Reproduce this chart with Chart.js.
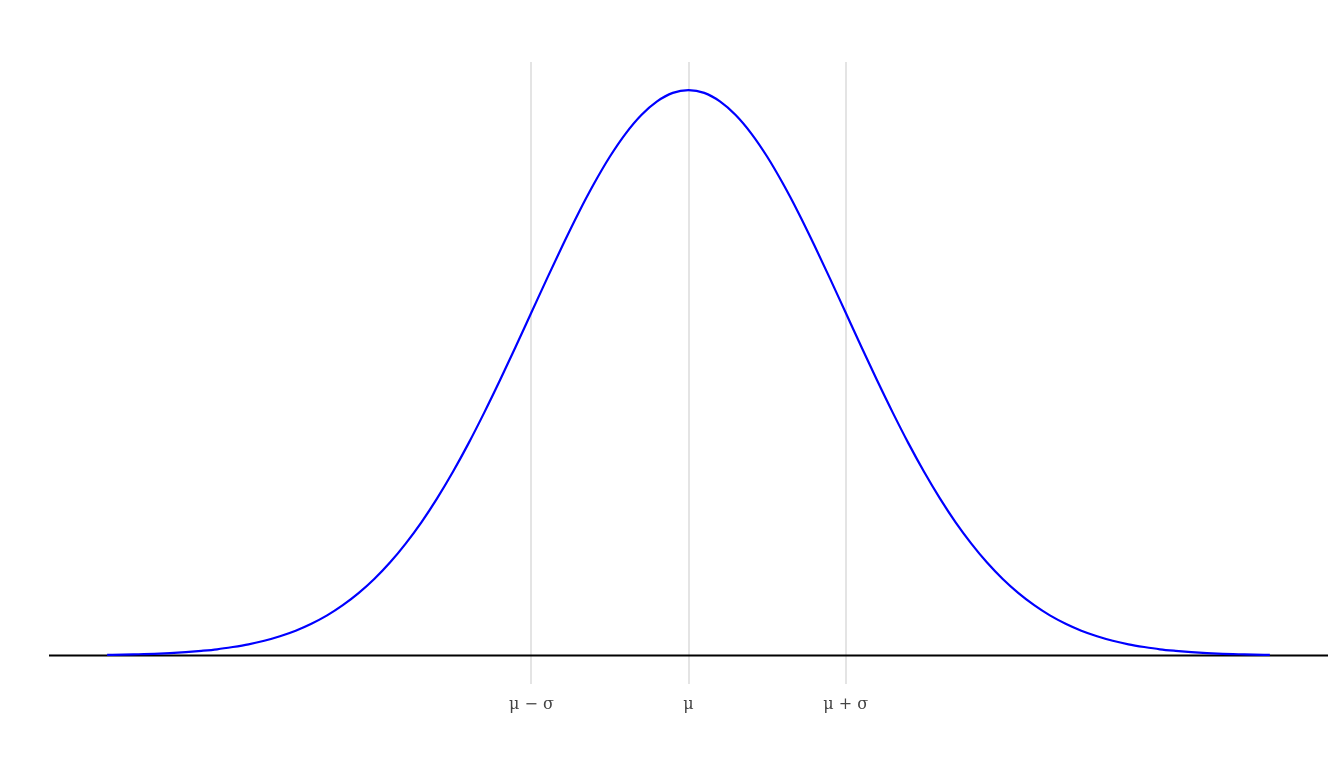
<!DOCTYPE html>
<html><head><meta charset="utf-8">
<script src="https://cdn.jsdelivr.net/npm/chart.js@4"></script>
<style>html,body{margin:0;padding:0;background:#fff;}#wrap{width:1344px;height:768px;}</style>
</head><body><div id="wrap"><canvas id="c" width="1344" height="768"></canvas></div>
<script>
// x positions in units of sigma from the mean
const xValues = [-3.7,-3.6,-3.5,-3.4,-3.3,-3.2,-3.1,-3.0,-2.9,-2.8,-2.7,-2.6,-2.5,-2.4,-2.3,-2.2,-2.1,-2.0,-1.9,-1.8,-1.7,-1.6,-1.5,-1.4,-1.3,-1.2,-1.1,-1.0,-0.9,-0.8,-0.7,-0.6,-0.5,-0.4,-0.3,-0.2,-0.1,0.0,0.1,0.2,0.3,0.4,0.5,0.6,0.7,0.8,0.9,1.0,1.1,1.2,1.3,1.4,1.5,1.6,1.7,1.8,1.9,2.0,2.1,2.2,2.3,2.4,2.5,2.6,2.7,2.8,2.9,3.0,3.1,3.2,3.3,3.4,3.5,3.6,3.7];
// density
const densityValues = [0.0004,0.0006,0.0009,0.0012,0.0017,0.0024,0.0033,0.0044,0.0060,0.0079,0.0104,0.0136,0.0175,0.0224,0.0283,0.0355,0.0440,0.0540,0.0656,0.0790,0.0940,0.1109,0.1295,0.1497,0.1714,0.1942,0.2179,0.2420,0.2661,0.2897,0.3123,0.3332,0.3521,0.3683,0.3814,0.3910,0.3970,0.3989,0.3970,0.3910,0.3814,0.3683,0.3521,0.3332,0.3123,0.2897,0.2661,0.2420,0.2179,0.1942,0.1714,0.1497,0.1295,0.1109,0.0940,0.0790,0.0656,0.0540,0.0440,0.0355,0.0283,0.0224,0.0175,0.0136,0.0104,0.0079,0.0060,0.0044,0.0033,0.0024,0.0017,0.0012,0.0009,0.0006,0.0004];
const tickValues = [-1, 0, 1];
const tickLabels = ['μ − σ', 'μ', 'μ + σ'];
const baselineX = [-4.07, 4.07];
const baselineY = [0, 0];

const curve = xValues.map((x, i) => ({x: x, y: densityValues[i]}));
const baseline = baselineX.map((x, i) => ({x: x, y: baselineY[i]}));

new Chart(document.getElementById('c'), {
  type: 'line',
  data: {
    datasets: [
      {data: curve, borderColor: '#0000ff', borderWidth: 2.2, pointRadius: 0, cubicInterpolationMode: 'monotone', fill: false, order: 0},
      {data: baseline, borderColor: '#000000', borderWidth: 2, pointRadius: 0, fill: false, order: 1}
    ]
  },
  options: {
    responsive: false,
    animation: false,
    layout: {padding: {left: 49, right: 16, top: 62, bottom: 43}},
    plugins: {legend: {display: false}, tooltip: {enabled: false}},
    scales: {
      x: {
        type: 'linear', min: -4.07, max: 4.07,
        afterBuildTicks: (axis) => { axis.ticks = tickValues.map(v => ({value: v})); },
        ticks: {
          callback: (v) => { const i = tickValues.indexOf(v); return i >= 0 ? tickLabels[i] : ''; },
          color: '#444444', font: {family: 'DejaVu Serif', size: 16}, padding: 11, maxRotation: 0, autoSkip: false
        },
        grid: {color: '#e4e4e4', lineWidth: 2, drawTicks: false},
        border: {display: false}
      },
      y: {
        display: false, min: -0.01995, max: 0.4188
      }
    }
  }
});
</script></body></html>
